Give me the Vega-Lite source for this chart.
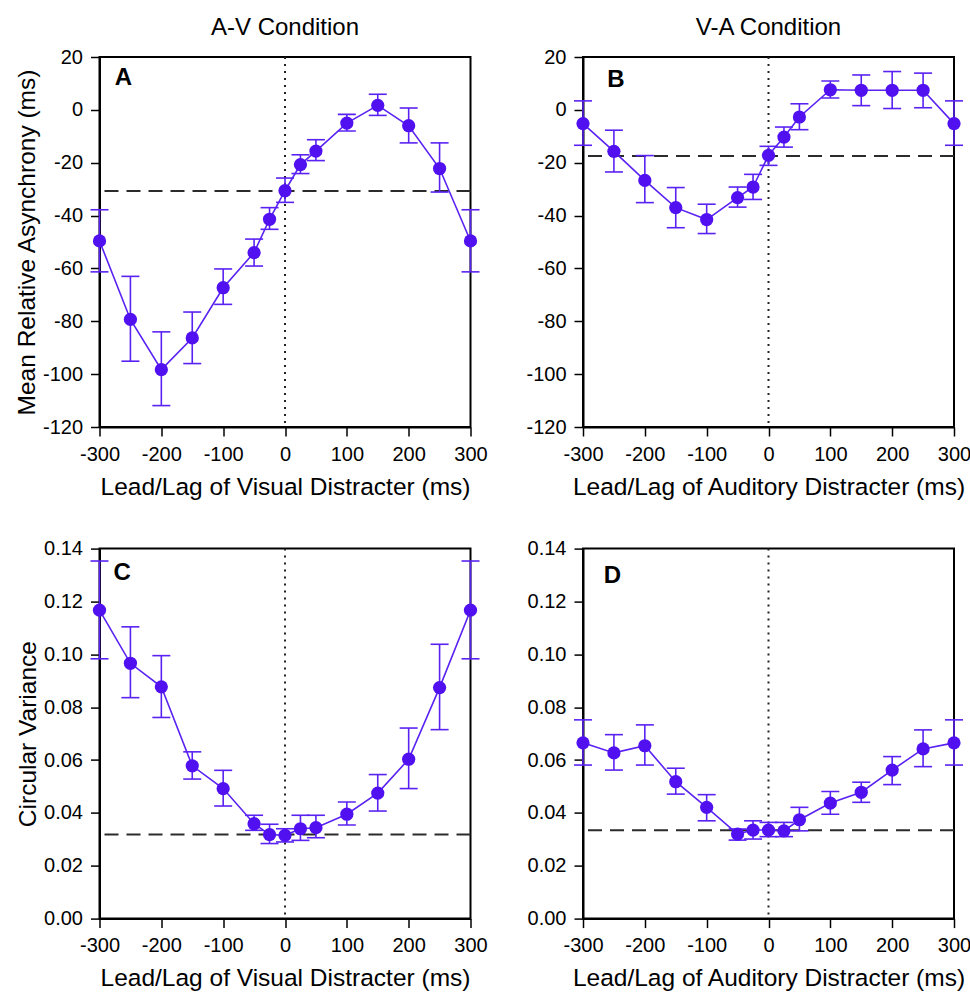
{
  "$schema": "https://vega.github.io/schema/vega-lite/v6.json",
  "background": "white",
  "padding": {"left": 12.5, "top": 14, "right": 5, "bottom": 5},
  "datasets": {
    "pts": [
      {"panel":"A","x":-300,"y":-49.6,"lo":-61.3,"hi":-37.8},
      {"panel":"A","x":-250,"y":-79.3,"lo":-95.1,"hi":-63.0},
      {"panel":"A","x":-200,"y":-98.3,"lo":-111.9,"hi":-84.0},
      {"panel":"A","x":-150,"y":-86.3,"lo":-96.0,"hi":-76.5},
      {"panel":"A","x":-100,"y":-67.3,"lo":-73.6,"hi":-60.2},
      {"panel":"A","x":-50,"y":-54.0,"lo":-59.1,"hi":-48.9},
      {"panel":"A","x":-25,"y":-41.4,"lo":-45.2,"hi":-37.0},
      {"panel":"A","x":0,"y":-30.6,"lo":-35.0,"hi":-25.8},
      {"panel":"A","x":25,"y":-20.7,"lo":-24.1,"hi":-17.0},
      {"panel":"A","x":50,"y":-15.6,"lo":-19.2,"hi":-11.3},
      {"panel":"A","x":100,"y":-5.0,"lo":-8.0,"hi":-1.7},
      {"panel":"A","x":150,"y":1.7,"lo":-2.1,"hi":5.9},
      {"panel":"A","x":200,"y":-6.0,"lo":-12.5,"hi":0.7},
      {"panel":"A","x":250,"y":-22.2,"lo":-31.1,"hi":-12.5},
      {"panel":"A","x":300,"y":-49.6,"lo":-61.3,"hi":-37.8},
      {"panel":"B","x":-300,"y":-5.2,"lo":-13.4,"hi":3.4},
      {"panel":"B","x":-250,"y":-15.7,"lo":-23.5,"hi":-7.7},
      {"panel":"B","x":-200,"y":-26.7,"lo":-35.1,"hi":-17.3},
      {"panel":"B","x":-150,"y":-37.0,"lo":-44.6,"hi":-29.4},
      {"panel":"B","x":-100,"y":-41.5,"lo":-46.8,"hi":-35.7},
      {"panel":"B","x":-50,"y":-33.2,"lo":-36.8,"hi":-29.2},
      {"panel":"B","x":-25,"y":-29.2,"lo":-33.9,"hi":-24.4},
      {"panel":"B","x":0,"y":-17.2,"lo":-21.0,"hi":-13.8},
      {"panel":"B","x":25,"y":-10.3,"lo":-14.1,"hi":-6.5},
      {"panel":"B","x":50,"y":-2.7,"lo":-7.5,"hi":2.3},
      {"panel":"B","x":100,"y":7.6,"lo":4.5,"hi":10.9},
      {"panel":"B","x":150,"y":7.4,"lo":1.6,"hi":13.2},
      {"panel":"B","x":200,"y":7.4,"lo":0.5,"hi":14.5},
      {"panel":"B","x":250,"y":7.4,"lo":0.8,"hi":13.9},
      {"panel":"B","x":300,"y":-5.2,"lo":-13.4,"hi":3.4},
      {"panel":"C","x":-300,"y":0.1167,"lo":0.0983,"hi":0.1353},
      {"panel":"C","x":-250,"y":0.0966,"lo":0.0836,"hi":0.1104},
      {"panel":"C","x":-200,"y":0.0877,"lo":0.0761,"hi":0.0995},
      {"panel":"C","x":-150,"y":0.0578,"lo":0.0528,"hi":0.0631},
      {"panel":"C","x":-100,"y":0.0492,"lo":0.0426,"hi":0.0561},
      {"panel":"C","x":-50,"y":0.0359,"lo":0.0334,"hi":0.0391},
      {"panel":"C","x":-25,"y":0.0318,"lo":0.0284,"hi":0.0357},
      {"panel":"C","x":0,"y":0.0315,"lo":0.0290,"hi":0.0340},
      {"panel":"C","x":25,"y":0.0340,"lo":0.0296,"hi":0.0391},
      {"panel":"C","x":50,"y":0.0344,"lo":0.0306,"hi":0.0391},
      {"panel":"C","x":100,"y":0.0395,"lo":0.0354,"hi":0.0441},
      {"panel":"C","x":150,"y":0.0475,"lo":0.0407,"hi":0.0545},
      {"panel":"C","x":200,"y":0.0603,"lo":0.0492,"hi":0.0721},
      {"panel":"C","x":250,"y":0.0874,"lo":0.0715,"hi":0.1038},
      {"panel":"C","x":300,"y":0.1167,"lo":0.0983,"hi":0.1353},
      {"panel":"D","x":-300,"y":0.0665,"lo":0.0581,"hi":0.0752},
      {"panel":"D","x":-250,"y":0.0627,"lo":0.0562,"hi":0.0696},
      {"panel":"D","x":-200,"y":0.0654,"lo":0.0581,"hi":0.0733},
      {"panel":"D","x":-150,"y":0.0518,"lo":0.0471,"hi":0.0569},
      {"panel":"D","x":-100,"y":0.0421,"lo":0.0370,"hi":0.0469},
      {"panel":"D","x":-50,"y":0.0320,"lo":0.0297,"hi":0.0339},
      {"panel":"D","x":-25,"y":0.0335,"lo":0.0301,"hi":0.0370},
      {"panel":"D","x":0,"y":0.0335,"lo":0.0310,"hi":0.0364},
      {"panel":"D","x":25,"y":0.0332,"lo":0.0310,"hi":0.0364},
      {"panel":"D","x":50,"y":0.0374,"lo":0.0332,"hi":0.0421},
      {"panel":"D","x":100,"y":0.0437,"lo":0.0395,"hi":0.0481},
      {"panel":"D","x":150,"y":0.0478,"lo":0.0440,"hi":0.0516},
      {"panel":"D","x":200,"y":0.0562,"lo":0.0507,"hi":0.0613},
      {"panel":"D","x":250,"y":0.0642,"lo":0.0575,"hi":0.0714},
      {"panel":"D","x":300,"y":0.0665,"lo":0.0581,"hi":0.0752}
    ],
    "refs": [
      {"panel":"A","ref":-30.7,"letter":"A"},
      {"panel":"B","ref":-17.5,"letter":"B"},
      {"panel":"C","ref":0.0318,"letter":"C"},
      {"panel":"D","ref":0.0334,"letter":"D"}
    ]
  },
  "columns": 2,
  "spacing": {"row": 121.6, "column": 112.5},
  "bounds": "flush",
  "concat": [
    {
      "width": 371, "height": 370,
      "title": {"text": "A-V Condition"},
      "layer": [
        {"data": {"name": "refs"}, "transform": [{"filter": "datum.panel === 'A'"}],
         "mark": {"type": "rule", "strokeDash": [14, 8], "strokeWidth": 2, "color": "#2b2b2b"},
         "encoding": {"y": {"field": "ref", "type": "quantitative"}}},
        {"data": {"name": "refs"}, "transform": [{"filter": "datum.panel === 'A'"}],
         "mark": {"type": "rule", "strokeDash": [2, 5], "strokeWidth": 2, "color": "#222222"},
         "encoding": {"x": {"datum": 0, "type": "quantitative"}}},
        {"data": {"name": "pts"}, "transform": [{"filter": "datum.panel === 'A'"}],
         "mark": {"type": "line", "color": "#5a22f2", "strokeWidth": 1.6},
         "encoding": {
           "x": {"field": "x", "type": "quantitative", "scale": {"domain": [-300, 300], "nice": false, "zero": false},
                 "axis": {"values": [-300, -200, -100, 0, 100, 200, 300], "title": "Lead/Lag of Visual Distracter (ms)"}},
           "y": {"field": "y", "type": "quantitative", "scale": {"domain": [-120, 20], "nice": false, "zero": false},
                 "axis": {"values": [-120, -100, -80, -60, -40, -20, 0, 20], "title": "Mean Relative Asynchrony (ms)"}}}},
        {"data": {"name": "pts"}, "transform": [{"filter": "datum.panel === 'A'"}],
         "mark": {"type": "rule", "color": "#5a22f2", "strokeWidth": 1.6},
         "encoding": {"x": {"field": "x", "type": "quantitative"}, "y": {"field": "lo", "type": "quantitative"}, "y2": {"field": "hi"}}},
        {"data": {"name": "pts"}, "transform": [{"filter": "datum.panel === 'A'"}],
         "mark": {"type": "tick", "orient": "horizontal", "color": "#5a22f2", "size": 18, "thickness": 1.6, "opacity": 1},
         "encoding": {"x": {"field": "x", "type": "quantitative"}, "y": {"field": "lo", "type": "quantitative"}}},
        {"data": {"name": "pts"}, "transform": [{"filter": "datum.panel === 'A'"}],
         "mark": {"type": "tick", "orient": "horizontal", "color": "#5a22f2", "size": 18, "thickness": 1.6, "opacity": 1},
         "encoding": {"x": {"field": "x", "type": "quantitative"}, "y": {"field": "hi", "type": "quantitative"}}},
        {"data": {"name": "pts"}, "transform": [{"filter": "datum.panel === 'A'"}],
         "mark": {"type": "circle", "color": "#5010f0", "size": 175, "opacity": 1},
         "encoding": {"x": {"field": "x", "type": "quantitative"}, "y": {"field": "y", "type": "quantitative"}}},
        {"data": {"name": "refs"}, "transform": [{"filter": "datum.panel === 'A'"}],
         "mark": {"type": "text", "align": "left", "baseline": "alphabetic", "fontSize": 24, "fontWeight": "bold", "color": "black"},
         "encoding": {"x": {"datum": -275.3, "type": "quantitative"}, "y": {"datum": 9.3, "type": "quantitative"}, "text": {"field": "letter"}}}
      ]
    },
    {
      "width": 371, "height": 370,
      "title": {"text": "V-A Condition"},
      "layer": [
        {"data": {"name": "refs"}, "transform": [{"filter": "datum.panel === 'B'"}],
         "mark": {"type": "rule", "strokeDash": [14, 8], "strokeWidth": 2, "color": "#2b2b2b"},
         "encoding": {"y": {"field": "ref", "type": "quantitative"}}},
        {"data": {"name": "refs"}, "transform": [{"filter": "datum.panel === 'B'"}],
         "mark": {"type": "rule", "strokeDash": [2, 5], "strokeWidth": 2, "color": "#222222"},
         "encoding": {"x": {"datum": 0, "type": "quantitative"}}},
        {"data": {"name": "pts"}, "transform": [{"filter": "datum.panel === 'B'"}],
         "mark": {"type": "line", "color": "#5a22f2", "strokeWidth": 1.6},
         "encoding": {
           "x": {"field": "x", "type": "quantitative", "scale": {"domain": [-300, 300], "nice": false, "zero": false},
                 "axis": {"values": [-300, -200, -100, 0, 100, 200, 300], "title": "Lead/Lag of Auditory Distracter (ms)"}},
           "y": {"field": "y", "type": "quantitative", "scale": {"domain": [-120, 20], "nice": false, "zero": false},
                 "axis": {"values": [-120, -100, -80, -60, -40, -20, 0, 20], "title": null}}}},
        {"data": {"name": "pts"}, "transform": [{"filter": "datum.panel === 'B'"}],
         "mark": {"type": "rule", "color": "#5a22f2", "strokeWidth": 1.6},
         "encoding": {"x": {"field": "x", "type": "quantitative"}, "y": {"field": "lo", "type": "quantitative"}, "y2": {"field": "hi"}}},
        {"data": {"name": "pts"}, "transform": [{"filter": "datum.panel === 'B'"}],
         "mark": {"type": "tick", "orient": "horizontal", "color": "#5a22f2", "size": 18, "thickness": 1.6, "opacity": 1},
         "encoding": {"x": {"field": "x", "type": "quantitative"}, "y": {"field": "lo", "type": "quantitative"}}},
        {"data": {"name": "pts"}, "transform": [{"filter": "datum.panel === 'B'"}],
         "mark": {"type": "tick", "orient": "horizontal", "color": "#5a22f2", "size": 18, "thickness": 1.6, "opacity": 1},
         "encoding": {"x": {"field": "x", "type": "quantitative"}, "y": {"field": "hi", "type": "quantitative"}}},
        {"data": {"name": "pts"}, "transform": [{"filter": "datum.panel === 'B'"}],
         "mark": {"type": "circle", "color": "#5010f0", "size": 175, "opacity": 1},
         "encoding": {"x": {"field": "x", "type": "quantitative"}, "y": {"field": "y", "type": "quantitative"}}},
        {"data": {"name": "refs"}, "transform": [{"filter": "datum.panel === 'B'"}],
         "mark": {"type": "text", "align": "left", "baseline": "alphabetic", "fontSize": 24, "fontWeight": "bold", "color": "black"},
         "encoding": {"x": {"datum": -260.7, "type": "quantitative"}, "y": {"datum": 8.5, "type": "quantitative"}, "text": {"field": "letter"}}}
      ]
    },
    {
      "width": 371, "height": 370,
      "layer": [
        {"data": {"name": "refs"}, "transform": [{"filter": "datum.panel === 'C'"}],
         "mark": {"type": "rule", "strokeDash": [14, 8], "strokeWidth": 2, "color": "#2b2b2b"},
         "encoding": {"y": {"field": "ref", "type": "quantitative"}}},
        {"data": {"name": "refs"}, "transform": [{"filter": "datum.panel === 'C'"}],
         "mark": {"type": "rule", "strokeDash": [2, 5], "strokeWidth": 2, "color": "#222222"},
         "encoding": {"x": {"datum": 0, "type": "quantitative"}}},
        {"data": {"name": "pts"}, "transform": [{"filter": "datum.panel === 'C'"}],
         "mark": {"type": "line", "color": "#5a22f2", "strokeWidth": 1.6},
         "encoding": {
           "x": {"field": "x", "type": "quantitative", "scale": {"domain": [-300, 300], "nice": false, "zero": false},
                 "axis": {"values": [-300, -200, -100, 0, 100, 200, 300], "title": "Lead/Lag of Visual Distracter (ms)"}},
           "y": {"field": "y", "type": "quantitative", "scale": {"domain": [0, 0.14], "nice": false, "zero": false},
                 "axis": {"values": [0, 0.02, 0.04, 0.06, 0.08, 0.10, 0.12, 0.14], "format": ".2f", "title": "Circular Variance"}}}},
        {"data": {"name": "pts"}, "transform": [{"filter": "datum.panel === 'C'"}],
         "mark": {"type": "rule", "color": "#5a22f2", "strokeWidth": 1.6},
         "encoding": {"x": {"field": "x", "type": "quantitative"}, "y": {"field": "lo", "type": "quantitative"}, "y2": {"field": "hi"}}},
        {"data": {"name": "pts"}, "transform": [{"filter": "datum.panel === 'C'"}],
         "mark": {"type": "tick", "orient": "horizontal", "color": "#5a22f2", "size": 18, "thickness": 1.6, "opacity": 1},
         "encoding": {"x": {"field": "x", "type": "quantitative"}, "y": {"field": "lo", "type": "quantitative"}}},
        {"data": {"name": "pts"}, "transform": [{"filter": "datum.panel === 'C'"}],
         "mark": {"type": "tick", "orient": "horizontal", "color": "#5a22f2", "size": 18, "thickness": 1.6, "opacity": 1},
         "encoding": {"x": {"field": "x", "type": "quantitative"}, "y": {"field": "hi", "type": "quantitative"}}},
        {"data": {"name": "pts"}, "transform": [{"filter": "datum.panel === 'C'"}],
         "mark": {"type": "circle", "color": "#5010f0", "size": 175, "opacity": 1},
         "encoding": {"x": {"field": "x", "type": "quantitative"}, "y": {"field": "y", "type": "quantitative"}}},
        {"data": {"name": "refs"}, "transform": [{"filter": "datum.panel === 'C'"}],
         "mark": {"type": "text", "align": "left", "baseline": "alphabetic", "fontSize": 24, "fontWeight": "bold", "color": "black"},
         "encoding": {"x": {"datum": -277.3, "type": "quantitative"}, "y": {"datum": 0.128, "type": "quantitative"}, "text": {"field": "letter"}}}
      ]
    },
    {
      "width": 371, "height": 370,
      "layer": [
        {"data": {"name": "refs"}, "transform": [{"filter": "datum.panel === 'D'"}],
         "mark": {"type": "rule", "strokeDash": [14, 8], "strokeWidth": 2, "color": "#2b2b2b"},
         "encoding": {"y": {"field": "ref", "type": "quantitative"}}},
        {"data": {"name": "refs"}, "transform": [{"filter": "datum.panel === 'D'"}],
         "mark": {"type": "rule", "strokeDash": [2, 5], "strokeWidth": 2, "color": "#222222"},
         "encoding": {"x": {"datum": 0, "type": "quantitative"}}},
        {"data": {"name": "pts"}, "transform": [{"filter": "datum.panel === 'D'"}],
         "mark": {"type": "line", "color": "#5a22f2", "strokeWidth": 1.6},
         "encoding": {
           "x": {"field": "x", "type": "quantitative", "scale": {"domain": [-300, 300], "nice": false, "zero": false},
                 "axis": {"values": [-300, -200, -100, 0, 100, 200, 300], "title": "Lead/Lag of Auditory Distracter (ms)"}},
           "y": {"field": "y", "type": "quantitative", "scale": {"domain": [0, 0.14], "nice": false, "zero": false},
                 "axis": {"values": [0, 0.02, 0.04, 0.06, 0.08, 0.10, 0.12, 0.14], "format": ".2f", "title": null}}}},
        {"data": {"name": "pts"}, "transform": [{"filter": "datum.panel === 'D'"}],
         "mark": {"type": "rule", "color": "#5a22f2", "strokeWidth": 1.6},
         "encoding": {"x": {"field": "x", "type": "quantitative"}, "y": {"field": "lo", "type": "quantitative"}, "y2": {"field": "hi"}}},
        {"data": {"name": "pts"}, "transform": [{"filter": "datum.panel === 'D'"}],
         "mark": {"type": "tick", "orient": "horizontal", "color": "#5a22f2", "size": 18, "thickness": 1.6, "opacity": 1},
         "encoding": {"x": {"field": "x", "type": "quantitative"}, "y": {"field": "lo", "type": "quantitative"}}},
        {"data": {"name": "pts"}, "transform": [{"filter": "datum.panel === 'D'"}],
         "mark": {"type": "tick", "orient": "horizontal", "color": "#5a22f2", "size": 18, "thickness": 1.6, "opacity": 1},
         "encoding": {"x": {"field": "x", "type": "quantitative"}, "y": {"field": "hi", "type": "quantitative"}}},
        {"data": {"name": "pts"}, "transform": [{"filter": "datum.panel === 'D'"}],
         "mark": {"type": "circle", "color": "#5010f0", "size": 175, "opacity": 1},
         "encoding": {"x": {"field": "x", "type": "quantitative"}, "y": {"field": "y", "type": "quantitative"}}},
        {"data": {"name": "refs"}, "transform": [{"filter": "datum.panel === 'D'"}],
         "mark": {"type": "text", "align": "left", "baseline": "alphabetic", "fontSize": 24, "fontWeight": "bold", "color": "black"},
         "encoding": {"x": {"datum": -266.5, "type": "quantitative"}, "y": {"datum": 0.1268, "type": "quantitative"}, "text": {"field": "letter"}}}
      ]
    }
  ],
  "config": {
    "font": "Liberation Sans",
    "locale": {"number": {"decimal": ".", "thousands": ",", "grouping": [3], "currency": ["$", ""], "minus": "-"}},
    "view": {"stroke": "black", "strokeWidth": 2},
    "title": {"fontSize": 24, "fontWeight": "normal", "color": "black", "frame": "group", "anchor": "middle", "baseline": "alphabetic", "offset": 7.5},
    "axis": {
      "grid": false,
      "domainColor": "black", "domainWidth": 2,
      "tickColor": "black", "tickWidth": 1.5, "tickSize": 9,
      "labelFontSize": 20, "labelColor": "black", "labelPadding": 8, "labelFont": "Liberation Sans",
      "titleFontSize": 24.5, "titleFontWeight": "normal", "titleColor": "black", "titleFont": "Liberation Sans",
      "labelOverlap": false, "labelFlush": false
    },
    "axisX": {"titlePadding": 11},
    "axisY": {"titlePadding": 3}
  }
}
